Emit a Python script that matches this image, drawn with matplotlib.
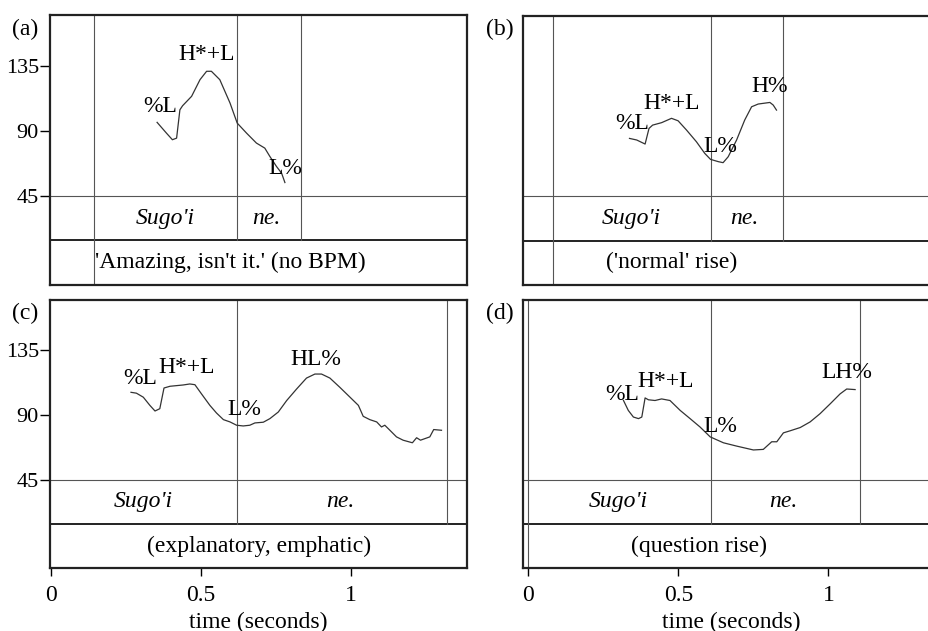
import matplotlib
matplotlib.use("Agg")
import matplotlib.pyplot as plt

plt.rcParams['font.family'] = ['Liberation Serif', 'DejaVu Serif']

# ---------------- data ----------------
# (a) 'Amazing, isn't it.' (no BPM)
t_a = [0.355, 0.386, 0.406, 0.420, 0.431, 0.440, 0.470, 0.498, 0.520, 0.536, 0.564,
       0.598, 0.622, 0.653, 0.686, 0.714, 0.731, 0.753, 0.770, 0.781]
f0_a = [95.8, 88.4, 83.8, 84.9, 104.5, 107.3, 113.8, 125.3, 131.1, 131.1, 125.3,
        109.2, 95.3, 88.4, 81.5, 78.0, 72.2, 65.3, 60.7, 54.2]

# (b) ('normal' rise)
t_b = [0.337, 0.361, 0.389, 0.402, 0.414, 0.444, 0.477, 0.499, 0.527, 0.560, 0.588,
       0.607, 0.633, 0.649, 0.666, 0.694, 0.721, 0.744, 0.766, 0.805, 0.816, 0.827]
f0_b = [84.9, 83.8, 81.0, 91.8, 94.1, 95.8, 98.8, 97.1, 90.7, 82.6, 74.5,
        70.4, 68.8, 68.1, 72.2, 83.8, 97.6, 106.8, 108.7, 109.8, 108.0, 104.5]

# (c) (explanatory, emphatic)
t_c = [0.268, 0.286, 0.309, 0.331, 0.348, 0.364, 0.378, 0.398, 0.442, 0.464, 0.481,
       0.503, 0.531, 0.553, 0.576, 0.598, 0.620, 0.642, 0.664, 0.681, 0.709, 0.731,
       0.759, 0.787, 0.820, 0.853, 0.881, 0.903, 0.931, 0.964, 0.998, 1.026, 1.042,
       1.064, 1.087, 1.103, 1.114, 1.131, 1.153, 1.175, 1.206, 1.220, 1.233, 1.264,
       1.277, 1.303]
f0_c = [105.8, 105.2, 102.4, 96.7, 92.8, 94.4, 108.8, 110.0, 110.9, 111.6, 111.1,
        104.7, 96.7, 91.4, 86.8, 85.2, 82.9, 82.4, 82.9, 84.5, 85.0, 87.5,
        92.1, 100.1, 108.1, 115.7, 118.5, 118.5, 115.7, 109.3, 102.4, 96.7, 89.1,
        86.8, 85.2, 81.7, 82.9, 79.4, 74.8, 72.5, 70.7, 74.2, 72.5, 74.8,
        79.9, 79.4]

# (d) (question rise)
t_d = [0.317, 0.333, 0.350, 0.367, 0.378, 0.389, 0.400, 0.422, 0.444, 0.472, 0.506,
       0.539, 0.572, 0.606, 0.650, 0.694, 0.750, 0.783, 0.811, 0.828, 0.850, 0.872,
       0.906, 0.939, 0.972, 1.006, 1.039, 1.061, 1.089]
f0_d = [100.1, 93.2, 88.6, 87.5, 88.6, 101.9, 100.6, 100.1, 101.2, 100.1, 93.2,
        87.5, 81.7, 74.8, 70.7, 68.4, 65.7, 66.1, 71.4, 71.4, 77.6, 79.0,
        81.3, 85.2, 90.9, 97.8, 104.7, 108.1, 107.7]

# tone labels: (label, time, Hz)
tones_a = [("%L", 0.364, 106.8), ("H*+L", 0.520, 142.6), ("L%", 0.781, 64.2)]
tones_b = [("%L", 0.345, 95.3), ("H*+L", 0.478, 109.2), ("L%", 0.639, 79.6), ("H%", 0.803, 121.1)]
tones_c = [("%L", 0.298, 115.3), ("H*+L", 0.453, 123.0), ("L%", 0.645, 94.1), ("HL%", 0.884, 128.8)]
tones_d = [("%L", 0.312, 104.6), ("H*+L", 0.458, 113.0), ("L%", 0.639, 81.9), ("LH%", 1.061, 119.5)]

# utterance boundary (full height) and word boundaries (tiers)
full_a, words_a = [0.145], [0.622, 0.833]
full_b, words_b = [0.083], [0.608, 0.848]
full_c, words_c = [], [0.622, 1.32]
full_d, words_d = [0.0], [0.608, 1.106]

# word tier labels (text, time)
wtext_a = [("Sugo'i", 0.381), ("ne.", 0.720)]
wtext_b = [("Sugo'i", 0.342), ("ne.", 0.719)]
wtext_c = [("Sugo'i", 0.309), ("ne.", 0.964)]
wtext_d = [("Sugo'i", 0.298), ("ne.", 0.848)]

gloss_a = ("'Amazing, isn't it.' (no BPM)", 0.598)
gloss_b = ("('normal' rise)", 0.476)
gloss_c = ("(explanatory, emphatic)", 0.695)
gloss_d = ("(question rise)", 0.570)

yticks = [45, 90, 135]
xticks = [0, 0.5, 1]
xticklabels = ["0", "0.5", "1"]
panel_labels = ["(a)", "(b)", "(c)", "(d)"]

# ---------------- layout ----------------
W, H = 929, 631
fig = plt.figure(figsize=(W / 100, H / 100), dpi=100)

def rect(l, t, r, b):
    return [l / W, 1 - b / H, (r - l) / W, (b - t) / H]

YMIN, YMAX = -16.6, 170.0
TIER = 14.2
FS = 17
FS_Y = 16

panels = [
    dict(rect=rect(50, 15, 467, 285), xlim=(-0.002, 1.388), t=t_a, f=f0_a, tones=tones_a,
         full=full_a, words=words_a, wt=wtext_a, gloss=gloss_a, left=True, bottom=False,
         lab=(25, 29)),
    dict(rect=rect(523.3, 15.5, 940, 285), xlim=(-0.017, 1.372), t=t_b, f=f0_b, tones=tones_b,
         full=full_b, words=words_b, wt=wtext_b, gloss=gloss_b, left=False, bottom=False,
         lab=(500, 29)),
    dict(rect=rect(50, 300, 467, 568.3), xlim=(-0.002, 1.388), t=t_c, f=f0_c, tones=tones_c,
         full=full_c, words=words_c, wt=wtext_c, gloss=gloss_c, left=True, bottom=True,
         lab=(25, 313)),
    dict(rect=rect(523.3, 300, 940, 568.3), xlim=(-0.017, 1.372), t=t_d, f=f0_d, tones=tones_d,
         full=full_d, words=words_d, wt=wtext_d, gloss=gloss_d, left=False, bottom=True,
         lab=(500, 313)),
]

line_col = '#555555'
for p, pl in zip(panels, panel_labels):
    ax = fig.add_axes(p['rect'])
    ax.set_xlim(*p['xlim'])
    ax.set_ylim(YMIN, YMAX)
    for s in ax.spines.values():
        s.set_linewidth(1.6)
        s.set_color('#222222')
    ax.axhline(45, color=line_col, lw=0.8)
    ax.axhline(TIER, color='#222222', lw=1.4)
    for x in p['full']:
        ax.axvline(x, color=line_col, lw=0.8)
    for x in p['words']:
        ax.plot([x, x], [TIER, YMAX], color=line_col, lw=0.8)
    ax.plot(p['t'], p['f'], color='#333333', lw=0.9)
    for lab, x, y in p['tones']:
        ax.text(x, y, lab, ha='center', va='center', fontsize=FS)
    for lab, x in p['wt']:
        ax.text(x, (45 + TIER) / 2, lab, ha='center', va='center', fontsize=FS, style='italic')
    ax.text(p['gloss'][1], (TIER + YMIN) / 2, p['gloss'][0], ha='center', va='center', fontsize=FS)

    if p['left']:
        ax.set_yticks(yticks)
        ax.set_yticklabels([str(v) for v in yticks], fontsize=FS_Y)
        ax.tick_params(axis='y', direction='out', length=7, width=1, pad=1)
    else:
        ax.set_yticks([])
    if p['bottom']:
        ax.set_xticks(xticks)
        ax.set_xticklabels(xticklabels, fontsize=FS)
        ax.tick_params(axis='x', direction='out', length=6, width=1, pad=6)
        ax.set_xlabel("time (seconds)", fontsize=FS, labelpad=4)
    else:
        ax.set_xticks([])
    fig.text(p['lab'][0] / W, 1 - p['lab'][1] / H, pl, ha='center', va='center', fontsize=FS)

fig.savefig("out.png", dpi=100)
